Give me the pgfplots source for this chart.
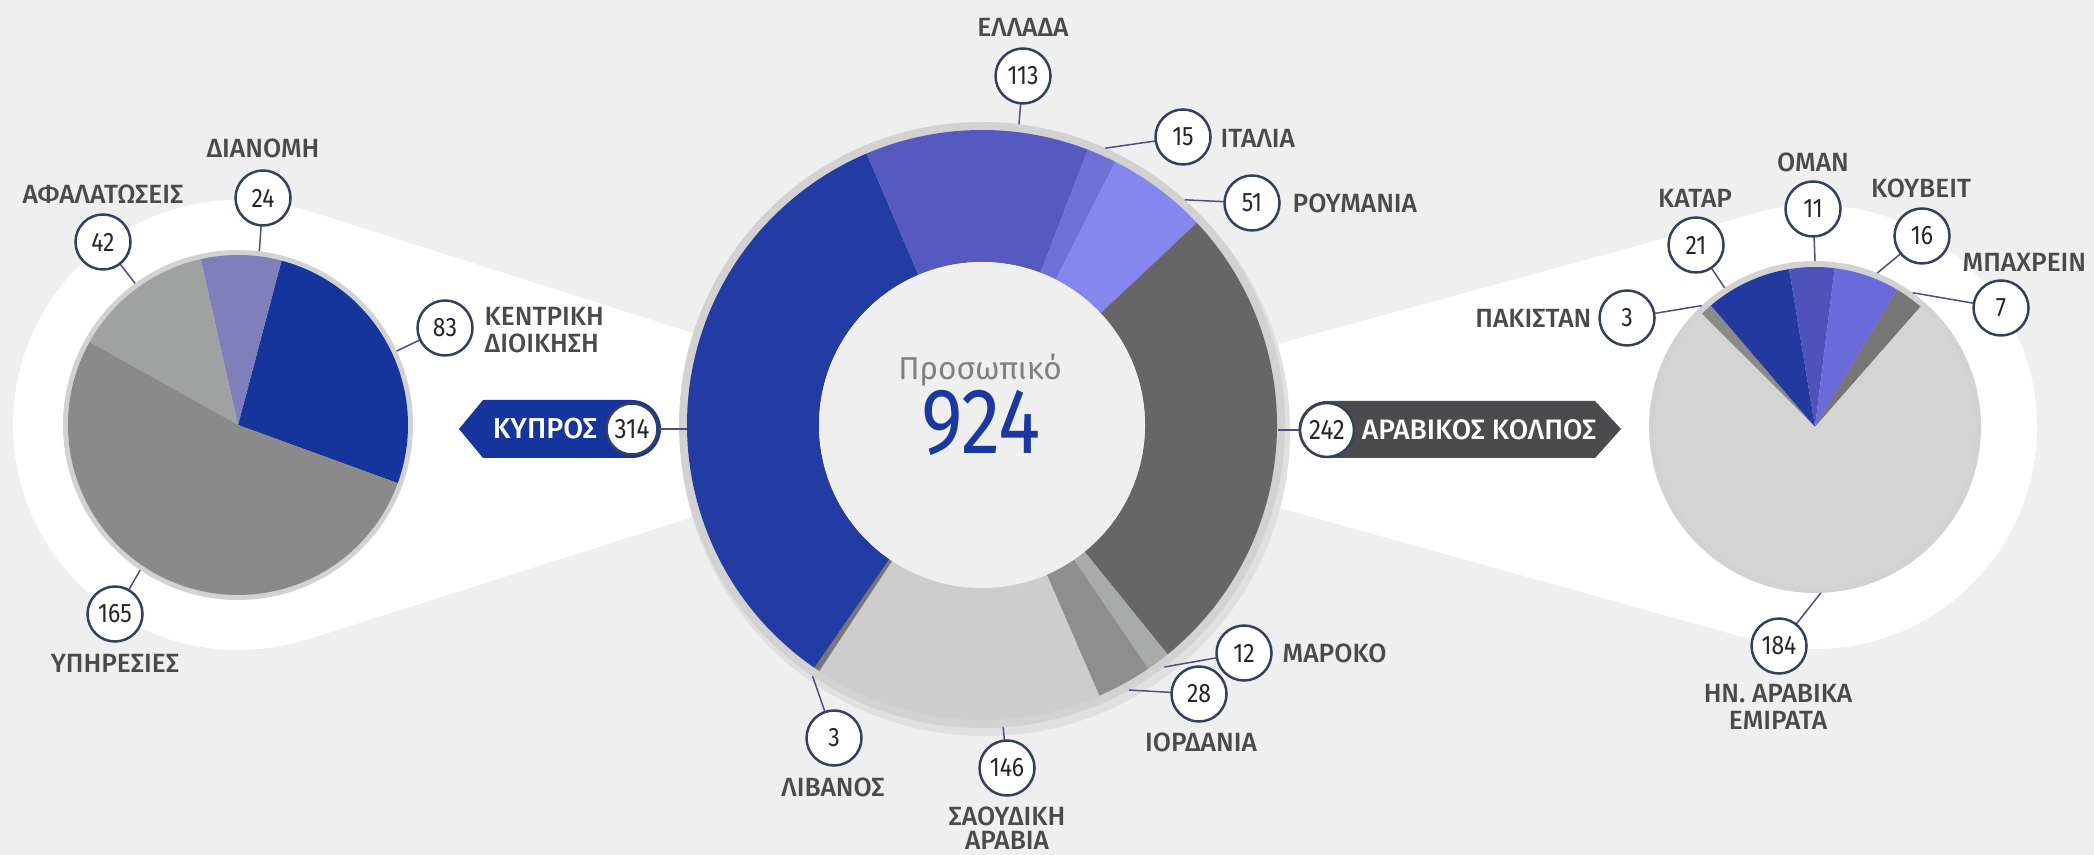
\documentclass[border=0pt]{standalone}
\usepackage{pgfplots}
\pgfplotsset{compat=1.18}
\usepackage{pgfplotstable}
\usepackage{fontspec}
\setmainfont{Fira Sans}
\newfontfamily\labfont{Fira Sans Medium}
\newfontfamily\numfont{Fira Sans}[FakeStretch=0.86]
\newfontfamily\bigfont{Fira Sans}[FakeStretch=0.85]

\definecolor{bg}{HTML}{EFEFEF}
\definecolor{rim}{HTML}{D2D2D2}
\definecolor{labc}{HTML}{4A4A4A}
\definecolor{navy}{HTML}{34405E}
\definecolor{leadc}{HTML}{4F4C8C}
\definecolor{bigblue}{HTML}{1A39A0}
\definecolor{banG}{HTML}{4B4B4D}
% left pie
\definecolor{kBlue}{HTML}{15359C}
\definecolor{kLav}{HTML}{7F80BB}
\definecolor{kLgray}{HTML}{A0A1A1}
\definecolor{kGray}{HTML}{8A8A8A}
% donut
\definecolor{dCy}{HTML}{223CA3}
\definecolor{dGr}{HTML}{5659BF}
\definecolor{dIt}{HTML}{6F70D6}
\definecolor{dRo}{HTML}{8586EE}
\definecolor{dGulf}{HTML}{666666}
\definecolor{dMa}{HTML}{A9AAAA}
\definecolor{dJo}{HTML}{8E8E8E}
\definecolor{dSa}{HTML}{CDCDCD}
\definecolor{dLe}{HTML}{777777}
% right pie
\definecolor{gPa}{HTML}{8A8A8A}
\definecolor{gQa}{HTML}{22399F}
\definecolor{gOm}{HTML}{5052BC}
\definecolor{gKu}{HTML}{6A6BDA}
\definecolor{gBa}{HTML}{767676}
\definecolor{gEm}{HTML}{D4D4D4}

\tikzset{
  numc/.style={circle, draw=navy, line width=0.25mm, fill=white,
    minimum size=5.5mm, inner sep=0pt, text=black!85,
    font=\numfont\fontsize{7.6}{8}\selectfont},
  lab/.style={text=labc, inner sep=0pt, font=\labfont\fontsize{7.5}{7.6}\selectfont},
  leader/.style={draw=leadc, line width=0.15mm}}

\pgfplotstableread{
val col
83  kBlue
24  kLav
42  kLgray
165 kGray
}\tabcy

\pgfplotstableread{
val col
113 dGr
15  dIt
51  dRo
242 dGulf
12  dMa
28  dJo
146 dSa
3   dLe
314 dCy
}\taball

\pgfplotstableread{
val col
3   gPa
21  gQa
11  gOm
16  gKu
7   gBa
184 gEm
}\tabgulf

% slices of a pie: table, cx, cy, outer r, inner r (px), start angle, direction (1 ccw, -1 cw)
\newcommand\pieslices[7]{%
  \pgfplotstablegetrowsof{#1}%
  \pgfmathtruncatemacro\nlast{\pgfplotsretval-1}%
  \xdef\pietot{0}%
  \foreach \k in {0,...,\nlast}{%
    \pgfplotstablegetelem{\k}{val}\of{#1}%
    \pgfmathsetmacro\pieT{\pietot+\pgfplotsretval}%
    \xdef\pietot{\pieT}}%
  \xdef\pieA{#6}%
  \foreach \k in {0,...,\nlast}{%
    \pgfplotstablegetelem{\k}{val}\of{#1}\let\pieV\pgfplotsretval
    \pgfplotstablegetelem{\k}{col}\of{#1}\let\pieC\pgfplotsretval
    \pgfmathsetmacro\pieB{\pieA+(#7)*360*(\pieV/\pietot)}%
    \edef\tmp{\noexpand\fill[\pieC] ([shift={(\pieA:#4*0.1mm)}]axis cs:#2,#3)
      arc[start angle=\pieA, end angle=\pieB, radius=#4*0.1mm]
      -- ([shift={(\pieB:#5*0.1mm)}]axis cs:#2,#3)
      arc[start angle=\pieB, end angle=\pieA, radius=#5*0.1mm] -- cycle;}%
    \tmp
    \xdef\pieA{\pieB}}%
}

\begin{document}
\begin{tikzpicture}
\begin{axis}[width=20.94cm, height=8.55cm, scale only axis,
  xmin=0, xmax=2094, ymin=0, ymax=855, y dir=reverse,
  hide axis, clip=false]

\fill[bg] (axis cs:0,0) rectangle (axis cs:2094,855);
% white backdrops
\fill[white] (axis cs:238,425) circle[radius=22.5mm];
\fill[white] (axis cs:306,210) -- (axis cs:982,425) -- (axis cs:306,640) -- cycle;
\fill[white] (axis cs:1815,427) circle[radius=22.2mm];
\fill[white] (axis cs:1757,213) -- (axis cs:982,425) -- (axis cs:1757,641) -- cycle;

% left pie
\fill[rim] (axis cs:238,425) circle[radius=17.5mm];
\pieslices{\tabcy}{238}{425}{170}{0.5}{-20}{1}

% donut
\fill[black!12] (axis cs:985,431) circle[radius=30.5mm];
\fill[rim] (axis cs:982,425) circle[radius=30.3mm];
\pieslices{\taball}{982}{425}{295}{163}{113}{-1}
\fill[bg] (axis cs:982,425) circle[radius=16.3mm];

% right pie
\fill[rim] (axis cs:1815,427) circle[radius=16.6mm];
\pieslices{\tabgulf}{1815}{427}{160}{0.5}{135}{-1}

% left labels
\draw[leader] ([shift={(25:17.5mm)}]axis cs:238,425) -- (axis cs:445,328);
\node[numc] at (axis cs:445,328) {83};
\node[lab, anchor=west, align=left] at (axis cs:484,330) {ΚΕΝΤΡΙΚΗ\\ΔΙΟΙΚΗΣΗ};
\draw[leader] ([shift={(83:17.5mm)}]axis cs:238,425) -- (axis cs:263,198);
\node[numc] at (axis cs:263,198) {24};
\node[lab] at (axis cs:263,148) {ΔΙΑΝΟΜΗ};
\draw[leader] ([shift={(126:17.5mm)}]axis cs:238,425) -- (axis cs:103,242);
\node[numc] at (axis cs:103,242) {42};
\node[lab] at (axis cs:103,194) {ΑΦΑΛΑΤΩΣΕΙΣ};
\draw[leader] ([shift={(236:17.5mm)}]axis cs:238,425) -- (axis cs:115,614);
\node[numc] at (axis cs:115,614) {165};
\node[lab] at (axis cs:115,663) {ΥΠΗΡΕΣΙΕΣ};

% Cyprus banner
\fill[kBlue] (axis cs:459,429) -- (axis cs:483,400) -- (axis cs:632,400)
  arc[start angle=90, end angle=-90, radius=2.9mm] -- (axis cs:483,458) -- cycle;
\draw[leader] (axis cs:655,429) -- (axis cs:687,429);
\node[numc, minimum size=5.1mm, font=\numfont\fontsize{8}{9}\selectfont] at (axis cs:632,429) {314};
\node[lab, text=white, font=\labfont\fontsize{8.2}{9}\selectfont] at (axis cs:545,429) {ΚΥΠΡΟΣ};

% Gulf banner
\fill[banG] (axis cs:1327,401) -- (axis cs:1595,401) -- (axis cs:1621,429)
  -- (axis cs:1595,458) -- (axis cs:1327,458)
  arc[start angle=-90, end angle=-270, radius=2.85mm] -- cycle;
\draw[leader] (axis cs:1278,430) -- (axis cs:1302,430);
\node[numc, minimum size=5.4mm, font=\numfont\fontsize{8}{9}\selectfont] at (axis cs:1327,430) {242};
\node[lab, text=white, font=\labfont\fontsize{8}{9}\selectfont] at (axis cs:1479,430) {ΑΡΑΒΙΚΟΣ ΚΟΛΠΟΣ};

% donut labels
\draw[leader] ([shift={(83:30.3mm)}]axis cs:982,425) -- (axis cs:1023,76);
\node[numc] at (axis cs:1023,76) {113};
\node[lab] at (axis cs:1023,27) {ΕΛΛΑΔΑ};
\draw[leader] ([shift={(66:30.3mm)}]axis cs:982,425) -- (axis cs:1183,137);
\node[numc] at (axis cs:1183,137) {15};
\node[lab, anchor=west] at (axis cs:1220,138) {ΙΤΑΛΙΑ};
\draw[leader] ([shift={(48:30.3mm)}]axis cs:982,425) -- (axis cs:1252,203);
\node[numc] at (axis cs:1252,203) {51};
\node[lab, anchor=west] at (axis cs:1292,203) {ΡΟΥΜΑΝΙΑ};
\draw[leader] ([shift={(-53:30.3mm)}]axis cs:982,425) -- (axis cs:1244,653);
\node[numc] at (axis cs:1244,653) {12};
\node[lab, anchor=west] at (axis cs:1282,653) {ΜΑΡΟΚΟ};
\draw[leader] ([shift={(-61:30.3mm)}]axis cs:982,425) -- (axis cs:1199,694);
\node[numc] at (axis cs:1199,694) {28};
\node[lab] at (axis cs:1201,742) {ΙΟΡΔΑΝΙΑ};
\draw[leader] ([shift={(-86:30.3mm)}]axis cs:982,425) -- (axis cs:1007,768);
\node[numc] at (axis cs:1007,768) {146};
\node[lab, align=center, font=\labfont\fontsize{7.5}{6.85}\selectfont] at (axis cs:1007,828) {ΣΑΟΥΔΙΚΗ\\ΑΡΑΒΙΑ};
\draw[leader] ([shift={(-124:30.3mm)}]axis cs:982,425) -- (axis cs:834,738);
\node[numc] at (axis cs:834,738) {3};
\node[lab] at (axis cs:833,787) {ΛΙΒΑΝΟΣ};

% centre text
\node[anchor=base, inner sep=0pt, text=black!50, font=\fontsize{9}{10}\selectfont]
  at (axis cs:980,380) {Προσωπικό};
\node[anchor=base, inner sep=0pt, text=bigblue, font=\bigfont\fontsize{26.5}{28}\selectfont]
  at (axis cs:981,454) {924};

% right labels
\draw[leader] ([shift={(133:16.6mm)}]axis cs:1815,427) -- (axis cs:1627,318);
\node[numc] at (axis cs:1627,318) {3};
\node[lab, anchor=east] at (axis cs:1592,318) {ΠΑΚΙΣΤΑΝ};
\draw[leader] ([shift={(123:16.6mm)}]axis cs:1815,427) -- (axis cs:1696,245);
\node[numc] at (axis cs:1696,245) {21};
\node[lab] at (axis cs:1695,198) {ΚΑΤΑΡ};
\draw[leader] ([shift={(90:16.6mm)}]axis cs:1815,427) -- (axis cs:1813,209);
\node[numc] at (axis cs:1813,209) {11};
\node[lab] at (axis cs:1813,162) {ΟΜΑΝ};
\draw[leader] ([shift={(68:16.6mm)}]axis cs:1815,427) -- (axis cs:1922,236);
\node[numc] at (axis cs:1922,236) {16};
\node[lab] at (axis cs:1921,188) {ΚΟΥΒΕΙΤ};
\draw[leader] ([shift={(54:16.6mm)}]axis cs:1815,427) -- (axis cs:2001,308);
\node[numc] at (axis cs:2001,308) {7};
\node[lab, anchor=west] at (axis cs:1962,262) {ΜΠΑΧΡΕΙΝ};
\draw[leader] ([shift={(-88:16.6mm)}]axis cs:1815,427) -- (axis cs:1779,646);
\node[numc] at (axis cs:1779,646) {184};
\node[lab, align=center] at (axis cs:1778,707) {ΗΝ. ΑΡΑΒΙΚΑ\\ΕΜΙΡΑΤΑ};
\end{axis}
\end{tikzpicture}
\end{document}
